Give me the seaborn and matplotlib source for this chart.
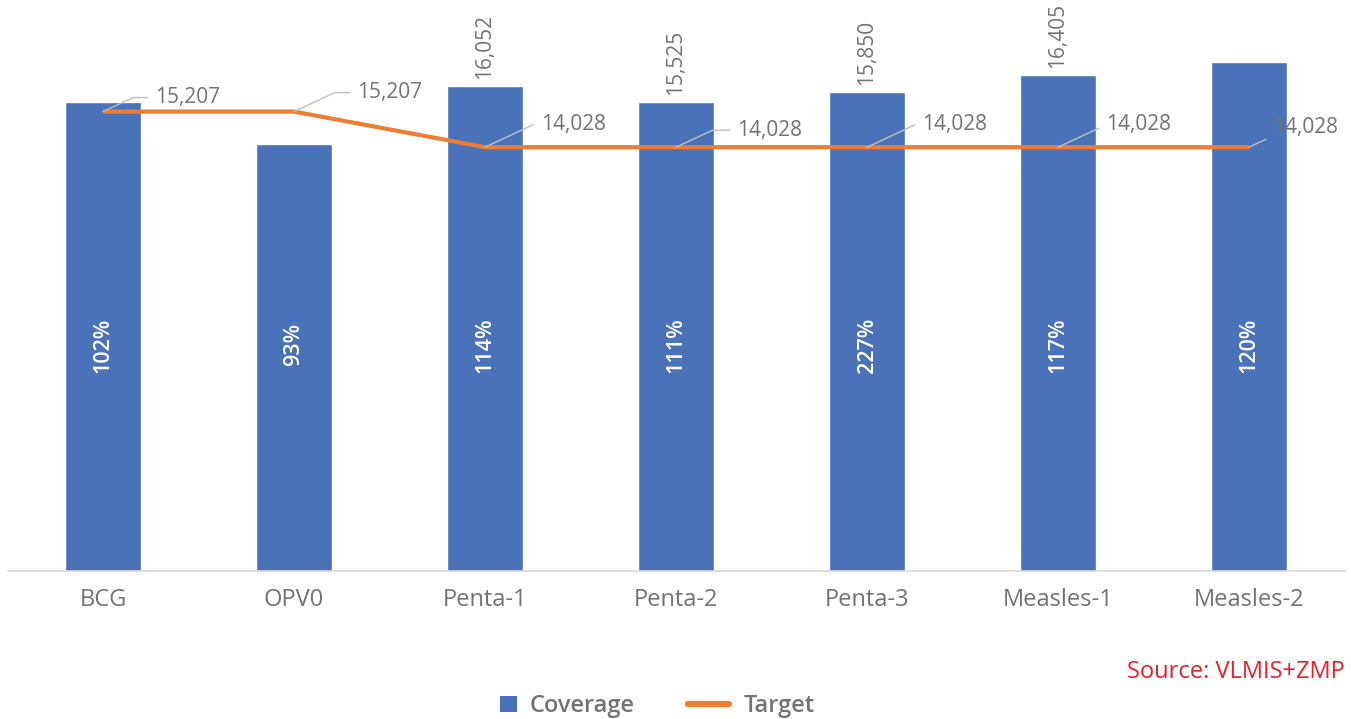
import numpy as np
import pandas as pd
import matplotlib
matplotlib.use("Agg")
import matplotlib.pyplot as plt
from matplotlib.patches import Patch
from matplotlib.lines import Line2D
import seaborn as sns

sns.set_theme(style="white")
plt.rcParams['font.family'] = ['Open Sans', 'DejaVu Sans']

# data
categories = ["BCG", "OPV0", "Penta-1", "Penta-2", "Penta-3", "Measles-1", "Measles-2"]
coverage = [15511, 14142, 16052, 15525, 15850, 16405, 16834]
target = [15207, 15207, 14028, 14028, 14028, 14028, 14028]
pct_labels = ["102%", "93%", "114%", "111%", "227%", "117%", "120%"]
show_cov_label = [False, False, True, True, True, True, False]

BLUE = "#4A72B8"
ORANGE = "#ED7D31"
GREY = "#737373"

df = pd.DataFrame({"vaccine": categories, "coverage": coverage, "target": target})

fig = plt.figure(figsize=(13.51, 7.19), dpi=100)
ax = fig.add_axes([0.0056, 0.2058, 0.9896, 0.7942])

sns.barplot(data=df, x="vaccine", y="coverage", color=BLUE, width=0.4,
            saturation=1, ax=ax)
ax.plot(range(len(categories)), df["target"], color=ORANGE, lw=3, zorder=3,
        solid_capstyle="butt")

ax.set_ylim(0, 18900)
ax.set_xlim(-0.5, len(categories) - 0.5)
ax.set_xlabel("")
ax.set_ylabel("")
ax.set_yticks([])
for s in ["top", "left", "right"]:
    ax.spines[s].set_visible(False)
ax.spines["bottom"].set_color("#D9D9D9")
ax.spines["bottom"].set_linewidth(1.2)
ax.tick_params(axis="x", length=0, pad=12, labelsize=17, labelcolor=GREY)

# coverage values above bars (rotated)
for i, (v, show) in enumerate(zip(coverage, show_cov_label)):
    if show:
        ax.annotate(f"{v:,}", (i, v), xytext=(0, 7), textcoords="offset pixels",
                    rotation=90, ha="center", va="bottom", fontsize=15, color=GREY)

# percentage labels inside bars
for i, p in enumerate(pct_labels):
    ax.text(i, 0.396, p, transform=ax.get_xaxis_transform(), rotation=90,
            ha="center", va="center", fontsize=15.5, color="white", fontweight="semibold")

# target labels with leader lines
offsets = [(52, 14), (63, 19), (56, 23), (61, 17), (55, 23), (48, 23), (24, 20)]
for i, (t, off) in enumerate(zip(target, offsets)):
    ax.annotate(f"{t:,}", (i, t), xytext=off, textcoords="offset pixels",
                ha="left", va="center", fontsize=15, color=GREY, zorder=4,
                arrowprops=dict(arrowstyle="-", color="#BFBFBF", lw=1,
                                shrinkA=3, shrinkB=0,
                                connectionstyle="angle,angleA=0,angleB=25,rad=0"))

fig.text(0.9955, 0.065, "Source: VLMIS+ZMP", color="#EE1C25", fontsize=17,
         ha="right", va="center")

# legend: two pieces so the square and the line get their own handle sizes
leg1 = fig.legend([Patch(facecolor=BLUE, edgecolor="none")], ["Coverage"],
                  loc="center left", bbox_to_anchor=(500 / 1351, 0.018),
                  frameon=False, fontsize=17, handlelength=0.7, handleheight=0.7,
                  handletextpad=0.55, borderpad=0, borderaxespad=0)
leg2 = fig.legend([Line2D([0], [0], color=ORANGE, lw=4.5, solid_capstyle="round")],
                  ["Target"], loc="center left", bbox_to_anchor=(688 / 1351, 0.018),
                  frameon=False, fontsize=17, handlelength=1.75,
                  handletextpad=0.6, borderpad=0, borderaxespad=0)
for leg in (leg1, leg2):
    for txt in leg.get_texts():
        txt.set_color(GREY)
        txt.set_fontweight("semibold")

fig.savefig("out.png", dpi=100)
